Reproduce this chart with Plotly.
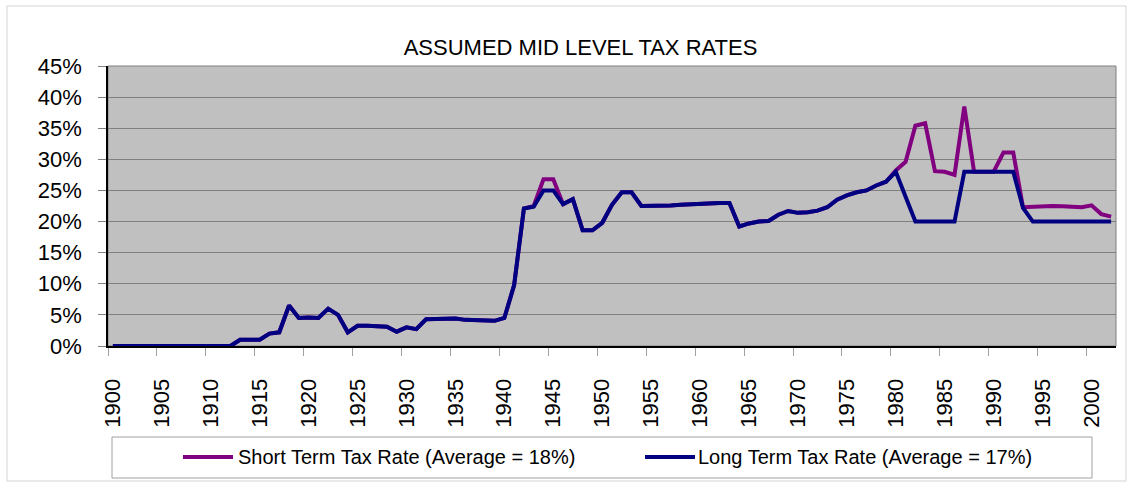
import plotly.graph_objects as go

# ---- data ----
years = list(range(1900, 2003))
tick_years = list(range(1900, 2001, 5))
tick_labels = [str(y) for y in tick_years]
y_ticks = [0, 5, 10, 15, 20, 25, 30, 35, 40, 45]
y_tick_labels = [f"{v}%" for v in y_ticks]

long_term = [
    0, 0, 0, 0, 0, 0, 0, 0, 0, 0,            # 1900-1909
    0, 0, 0, 1.0, 1.0, 1.0, 2.0, 2.2, 6.5, 4.5,  # 1910-1919
    4.6, 4.5, 6.0, 5.0, 2.2, 3.25, 3.25, 3.2, 3.1, 2.3,  # 1920-1929
    3.0, 2.7, 4.3, 4.35, 4.4, 4.4, 4.2, 4.15, 4.1, 4.05,  # 1930-1939
    4.5, 9.8, 22.1, 22.4, 25.0, 25.0, 22.8, 23.6, 18.6, 18.6,  # 1940-1949
    19.8, 22.7, 24.7, 24.7, 22.5, 22.5, 22.6, 22.6, 22.7, 22.8,  # 1950-1959
    22.9, 22.9, 23.0, 23.0, 19.2, 19.7, 20.0, 20.1, 21.1, 21.7,  # 1960-1969
    21.4, 21.5, 21.75, 22.3, 23.5, 24.2, 24.7, 25.0, 25.8, 26.4,  # 1970-1979
    28.0, 24.0, 20.0, 20.0, 20.0, 20.0, 20.0, 28.0, 28.0, 28.0,  # 1980-1989
    28.0, 28.0, 28.0, 22.2, 20.0, 20.0, 20.0, 20.0, 20.0, 20.0,  # 1990-1999
    20.0, 20.0, 20.0,  # 2000-2002
]

short_term = [
    0, 0, 0, 0, 0, 0, 0, 0, 0, 0,
    0, 0, 0, 1.0, 1.0, 1.0, 2.0, 2.2, 6.5, 4.5,
    4.6, 4.5, 6.0, 5.0, 2.2, 3.25, 3.25, 3.2, 3.1, 2.3,
    3.0, 2.7, 4.3, 4.35, 4.4, 4.4, 4.2, 4.15, 4.1, 4.05,
    4.5, 9.8, 22.1, 22.5, 26.8, 26.8, 22.8, 23.6, 18.6, 18.6,
    19.8, 22.7, 24.7, 24.7, 22.5, 22.5, 22.6, 22.6, 22.7, 22.8,
    22.9, 22.9, 23.0, 23.0, 19.2, 19.7, 20.0, 20.1, 21.1, 21.7,
    21.4, 21.5, 21.75, 22.3, 23.5, 24.2, 24.7, 25.0, 25.8, 26.4,
    28.2, 29.6, 35.4, 35.8, 28.1, 28.0, 27.5, 38.5, 28.0, 28.0,
    28.0, 31.1, 31.1, 22.3, 22.4, 22.4, 22.5, 22.45, 22.3, 22.3,
    22.6, 21.2, 20.8,
]

short_name = "Short Term Tax Rate (Average = 18%)"
long_name = "Long Term Tax Rate (Average = 17%)"
title_text = "ASSUMED MID LEVEL TAX RATES"

PURPLE = "#800080"
NAVY = "#000080"
FONT = "Arial, Liberation Sans, sans-serif"

fig = go.Figure()
fig.add_trace(go.Scatter(x=years, y=short_term, mode="lines", name=short_name,
                         line=dict(color=PURPLE, width=4), showlegend=False))
fig.add_trace(go.Scatter(x=years, y=long_term, mode="lines", name=long_name,
                         line=dict(color=NAVY, width=4), showlegend=False))

W, H = 1133, 483
L, R, T, B = 108, 1116, 66, 346


def px(x):
    return (x - L) / (R - L)


def py(y):
    return (B - y) / (B - T)


shapes = [
    # plot area border (grey top/right)
    dict(type="rect", xref="paper", yref="paper", x0=0, x1=1, y0=0, y1=1,
         line=dict(color="#808080", width=1), layer="below"),
    # outer chart border
    dict(type="rect", xref="paper", yref="paper", x0=px(7), x1=px(1126), y0=py(481), y1=py(6),
         line=dict(color="#d4d4d4", width=1), layer="below"),
    # legend box
    dict(type="rect", xref="paper", yref="paper", x0=px(112), x1=px(1092), y0=py(478), y1=py(437),
         line=dict(color="#a0a0a0", width=1), fillcolor="white", layer="below"),
    dict(type="line", xref="paper", yref="paper", x0=px(183), x1=px(233), y0=py(457), y1=py(457),
         line=dict(color=PURPLE, width=4)),
    dict(type="line", xref="paper", yref="paper", x0=px(645), x1=px(695), y0=py(457), y1=py(457),
         line=dict(color=NAVY, width=4)),
]

annotations = [
    dict(text=short_name, xref="paper", yref="paper", x=px(236), y=py(457),
         xanchor="left", yanchor="middle", showarrow=False,
         font=dict(family=FONT, size=20, color="black")),
    dict(text=long_name, xref="paper", yref="paper", x=px(696), y=py(457),
         xanchor="left", yanchor="middle", showarrow=False,
         font=dict(family=FONT, size=20, color="black")),
]

fig.update_layout(
    width=W, height=H,
    margin=dict(l=L, r=W - R, t=T, b=H - B, pad=0),
    paper_bgcolor="white",
    plot_bgcolor="#C0C0C0",
    font=dict(family=FONT, color="black"),
    title=dict(text=title_text, x=580.5 / W, xref="container", xanchor="center",
               y=1 - 47 / H, yref="container", yanchor="middle",
               font=dict(family=FONT, size=22, color="black")),
    shapes=shapes,
    annotations=annotations,
    showlegend=False,
    xaxis=dict(
        range=[1899.5, 2002.5],
        tickmode="array", tickvals=tick_years, ticktext=tick_labels,
        tickangle=-90, tickfont=dict(family=FONT, size=22, color="black"),
        ticks="", ticklabelstandoff=22,
        minor=dict(ticks="outside", tick0=1899.5, dtick=5, ticklen=8,
                   tickcolor="#a0a0a0", tickwidth=1, showgrid=False),
        showgrid=False, zeroline=False,
        showline=True, linecolor="black", linewidth=2,
        fixedrange=True,
    ),
    yaxis=dict(
        range=[0, 45],
        tickmode="array", tickvals=y_ticks, ticktext=y_tick_labels,
        tickfont=dict(family=FONT, size=22, color="black"),
        ticks="outside", ticklen=8, tickcolor="#808080", tickwidth=1,
        ticklabelstandoff=12,
        showgrid=True, gridcolor="#808080", gridwidth=1,
        zeroline=False,
        showline=True, linecolor="black", linewidth=1.5,
        fixedrange=True,
    ),
)

fig.write_html("out.html",
               config={"displayModeBar": False},
               post_script="document.body.style.margin='0';document.body.style.overflow='hidden';")
